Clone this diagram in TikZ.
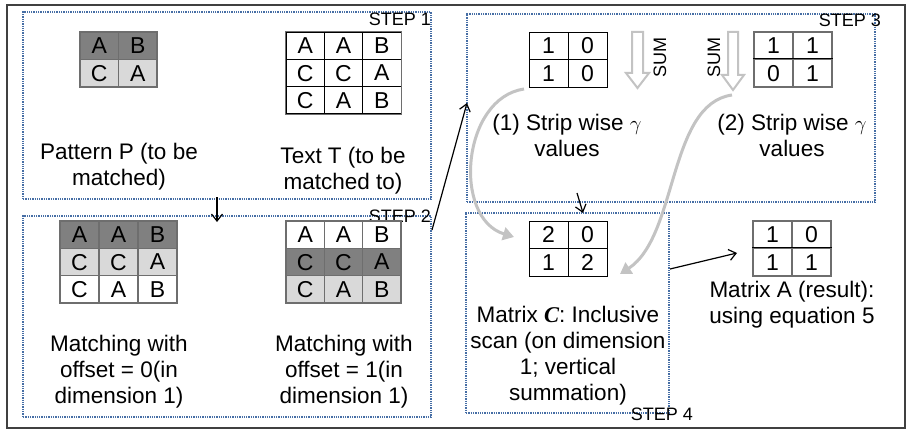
\documentclass[tikz,border=0pt]{standalone}
\usepackage{fontspec}
\setmainfont{Liberation Sans}
\newfontfamily\serifit{Liberation Serif}
\usetikzlibrary{arrows.meta}
\definecolor{dotblue}{RGB}{70,110,165}
\definecolor{darkcell}{RGB}{128,128,128}
\definecolor{lightcell}{RGB}{217,217,217}
\definecolor{gridgrey}{RGB}{110,110,110}
\definecolor{curvegrey}{RGB}{195,195,195}
\tikzset{
  x=1pt, y=-1pt,
  framest/.style={draw=black!75, line width=1.3pt},
  stepbox/.style={draw=dotblue, line width=1.3pt, dash pattern=on 1.3pt off 1pt, inner sep=0pt},
  steplbl/.style={font=\fontsize{18}{20}\selectfont, inner sep=0pt, anchor=base east},
  cellbase/.style={inner sep=0pt, font=\fontsize{23}{24}\selectfont, text depth=0pt},
  gcell/.style={cellbase, draw=gridgrey, line width=1.2pt},
  kcell/.style={cellbase, draw=black, line width=0.9pt},
  pw/.style={minimum width=38.5pt, minimum height=27.5pt},
  tw/.style={minimum width=38.3pt, minimum height=27.3pt},
  ow/.style={minimum width=39pt, minimum height=27.3pt},
  mw/.style={minimum width=39pt, minimum height=27.5pt},
  lbl/.style={align=center, inner sep=0pt, anchor=base, font=\fontsize{22.5}{26}\selectfont},
  blk/.style={draw=black, line width=1.2pt, -{Straight Barb[length=7pt,width=11pt,line width=1.2pt]}},
  gcurve/.style={draw=curvegrey, line width=3pt, -{Triangle[length=11pt,width=13pt]}},
  sumarrow/.style={draw=curvegrey, line width=2pt, fill=white, line join=miter},
  sumlbl/.style={rotate=90, inner sep=0pt, font=\fontsize{18}{20}\selectfont}
}
\begin{document}
\begin{tikzpicture}
\useasboundingbox (0,0) rectangle (910,441);
\fill[white] (0,0) rectangle (910,441);
% outer frame
\node[framest, minimum width=898pt, minimum height=423pt, inner sep=0pt] (frame) at (456,216.5) {};

% step boxes
\node[stepbox, minimum width=408pt, minimum height=187pt] (s1) at (227,105.5) {};
\node[stepbox, minimum width=408pt, minimum height=201pt] (s2) at (227,316.5) {};
\node[stepbox, minimum width=408pt, minimum height=188pt] (s3) at (671,108) {};
\node[stepbox, minimum width=203pt, minimum height=200pt] (s4) at (567.5,313) {};
\node[steplbl] (l1) at (431,26) {STEP 1};
\node[steplbl] (l2) at (431,222) {STEP 2};
\node[steplbl] (l3) at (881,27) {STEP 3};
\node[steplbl] (l4) at (693,420) {STEP 4};

% Pattern P
\node[gcell,pw,fill=darkcell] (p11) at (99.25,45.75) {A};
\node[gcell,pw,fill=darkcell] (p12) at (137.75,45.75) {B};
\node[gcell,pw,fill=lightcell] (p21) at (99.25,73.25) {C};
\node[gcell,pw,fill=lightcell] (p22) at (137.75,73.25) {A};

% Text T
\node[kcell,tw] (t11) at (305.2,45.7) {A};
\node[kcell,tw] (t12) at (343.5,45.7) {A};
\node[kcell,tw] (t13) at (381.8,45.7) {B};
\node[kcell,tw] (t21) at (305.2,73) {C};
\node[kcell,tw] (t22) at (343.5,73) {C};
\node[kcell,tw] (t23) at (381.8,73) {A};
\node[kcell,tw] (t31) at (305.2,100.3) {C};
\node[kcell,tw] (t32) at (343.5,100.3) {A};
\node[kcell,tw] (t33) at (381.8,100.3) {B};
\draw[gridgrey, line width=1.2pt] (t11.north west) rectangle (t33.south east);

\node[lbl] (ptxt) at (119,185) {Pattern P (to be\\matched)};
\node[lbl] (ttxt) at (343,189) {Text T (to be\\matched to)};

% offset 0
\node[gcell,ow,fill=darkcell] (a11) at (79.5,234.7) {A};
\node[gcell,ow,fill=darkcell] (a12) at (118.5,234.7) {A};
\node[gcell,ow,fill=darkcell] (a13) at (157.5,234.7) {B};
\node[gcell,ow,fill=lightcell] (a21) at (79.5,262) {C};
\node[gcell,ow,fill=lightcell] (a22) at (118.5,262) {C};
\node[gcell,ow,fill=lightcell] (a23) at (157.5,262) {A};
\node[gcell,ow,fill=white] (a31) at (79.5,289.3) {C};
\node[gcell,ow,fill=white] (a32) at (118.5,289.3) {A};
\node[gcell,ow,fill=white] (a33) at (157.5,289.3) {B};

% offset 1
\node[gcell,tw,fill=white] (b11) at (305.2,234.7) {A};
\node[gcell,tw,fill=white] (b12) at (343.5,234.7) {A};
\node[gcell,tw,fill=white] (b13) at (381.8,234.7) {B};
\node[gcell,tw,fill=darkcell] (b21) at (305.2,262) {C};
\node[gcell,tw,fill=darkcell] (b22) at (343.5,262) {C};
\node[gcell,tw,fill=darkcell] (b23) at (381.8,262) {A};
\node[gcell,tw,fill=lightcell] (b31) at (305.2,289.3) {C};
\node[gcell,tw,fill=lightcell] (b32) at (343.5,289.3) {A};
\node[gcell,tw,fill=lightcell] (b33) at (381.8,289.3) {B};

\node[lbl] (m0txt) at (119,403) {Matching with\\offset = 0(in\\dimension 1)};
\node[lbl] (m1txt) at (344,403) {Matching with\\offset = 1(in\\dimension 1)};

% strip matrices
\node[kcell,mw] (g11) at (548.5,45.75) {1};
\node[kcell,mw] (g12) at (587.5,45.75) {0};
\node[kcell,mw] (g21) at (548.5,73.25) {1};
\node[kcell,mw] (g22) at (587.5,73.25) {0};

\node[gcell,mw] (h11) at (773.5,45.75) {1};
\node[gcell,mw] (h12) at (812.5,45.75) {1};
\node[gcell,mw] (h21) at (773.5,73.25) {0};
\node[gcell,mw] (h22) at (812.5,73.25) {1};
\draw[black, line width=0.9pt] (h21.north west) -- (h22.north east);

% SUM arrows
\draw[sumarrow] (632,32) -- (643,32) -- (643,73) -- (649,73) -- (637.5,88) -- (626,73) -- (632,73) -- cycle;
\draw[sumarrow] (728,32) -- (738,32) -- (738,75) -- (744,75) -- (733,90) -- (722,75) -- (728,75) -- cycle;
\node[sumlbl] (sum1) at (660,58) {SUM};
\node[sumlbl] (sum2) at (714,58) {SUM};

\node[lbl] (st1) at (567,157) {(1) Strip wise $\gamma$\\values};
\node[lbl] (st2) at (792,157) {(2) Strip wise $\gamma$\\values};

% matrix C
\node[kcell,mw] (c11) at (548.5,234.75) {2};
\node[kcell,mw] (c12) at (587.5,234.75) {0};
\node[kcell,mw] (c21) at (548.5,262.25) {1};
\node[kcell,mw] (c22) at (587.5,262.25) {2};
\node[lbl] (ctxt) at (568,400) {Matrix {\serifit\bfseries\itshape C}: Inclusive\\scan (on dimension\\1; vertical\\summation)};

% matrix A
\node[gcell,mw] (r11) at (772.5,234.75) {1};
\node[gcell,mw] (r12) at (811.5,234.75) {0};
\node[gcell,mw] (r21) at (772.5,262.25) {1};
\node[gcell,mw] (r22) at (811.5,262.25) {1};
\draw[black, line width=0.9pt] (r21.north west) -- (r22.north east);
\node[lbl] (rtxt) at (792,323) {Matrix A (result):\\using equation 5};

% grey curves
\coordinate (cu1s) at (524,89);
\coordinate (cu1e) at (514,237);
\coordinate (cu2s) at (732,95);
\coordinate (cu2e) at (620,274);
\draw[gcurve] (cu1s) .. controls (462,98) and (452,218) .. (cu1e);
\draw[gcurve] (cu2s) .. controls (668,104) and (678,236) .. (cu2e);

% black arrows
\coordinate (a1s) at (217,197);
\coordinate (a1e) at (217,222);
\coordinate (a2s) at (432,230);
\coordinate (a2e) at (467,103);
\coordinate (a3s) at (577,193);
\coordinate (a3e) at (583,213);
\coordinate (a4s) at (670,269);
\coordinate (a4e) at (737,253);
\draw[blk] (a1s) -- (a1e);
\draw[blk] (a2s) -- (a2e);
\draw[blk] (a3s) -- (a3e);
\draw[blk] (a4s) -- (a4e);
\end{tikzpicture}
\end{document}
